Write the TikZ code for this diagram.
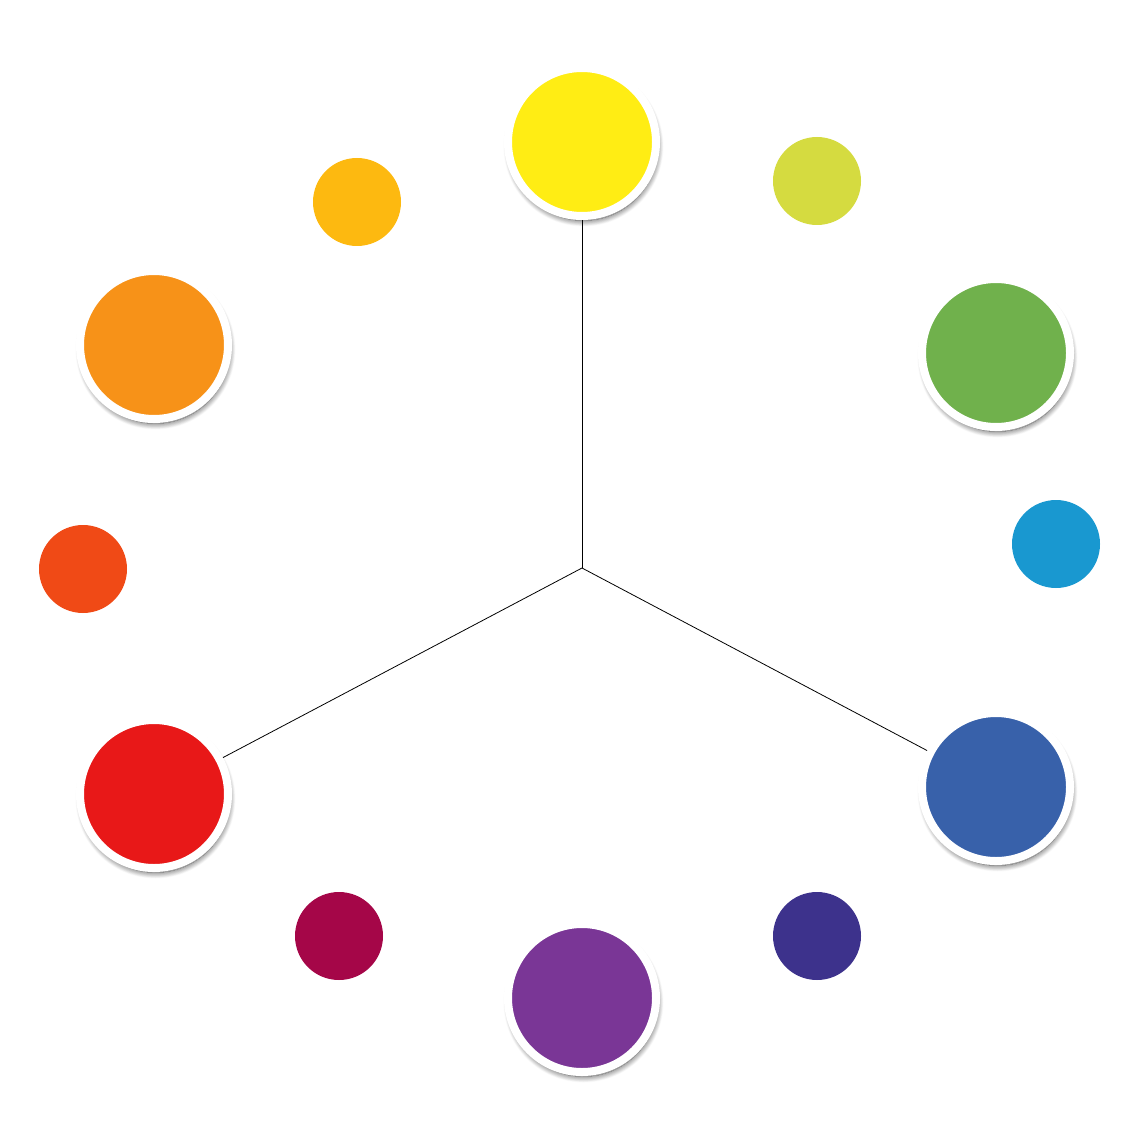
\documentclass[tikz,border=0pt]{standalone}
\usepackage{xcolor}
\usetikzlibrary{shadows.blur}

\definecolor{cyellow}{RGB}{255,237,20}
\definecolor{cyellowgreen}{RGB}{213,219,64}
\definecolor{cgreen}{RGB}{112,177,76}
\definecolor{cbluegreen}{RGB}{25,152,208}
\definecolor{cblue}{RGB}{56,97,170}
\definecolor{cblueviolet}{RGB}{61,50,140}
\definecolor{cviolet}{RGB}{122,54,150}
\definecolor{credviolet}{RGB}{165,6,72}
\definecolor{cred}{RGB}{232,24,24}
\definecolor{credorange}{RGB}{240,74,22}
\definecolor{corange}{RGB}{247,146,24}
\definecolor{cyelloworange}{RGB}{253,185,16}

\begin{document}
\begin{tikzpicture}[x=1pt, y=-1pt,
                main node/.style={circle, draw=white, line width=8pt, minimum size=148pt, inner sep=0pt,
                  blur shadow={shadow xshift=1.5pt, shadow yshift=-4.5pt, shadow blur radius=6pt,
                    shadow blur steps=10, shadow opacity=75}},
                small node/.style={circle, minimum size=88pt, inner sep=0pt}]

      \useasboundingbox (0,0) rectangle (1139,1139);

      % primary and secondary colours
      \node[main node, fill=cyellow] (Y) at (582,142) {};
      \node[main node, fill=cgreen] (G) at (996,353) {};
      \node[main node, fill=cblue] (B) at (996,787) {};
      \node[main node, fill=cviolet] (V) at (582,998) {};
      \node[main node, fill=cred] (R) at (154,794) {};
      \node[main node, fill=corange] (O) at (154,345) {};

      % tertiary colours
      \node[small node, fill=cyellowgreen] (YG) at (817,181) {};
      \node[small node, fill=cbluegreen] (BG) at (1056,544) {};
      \node[small node, fill=cblueviolet] (BV) at (817,936) {};
      \node[small node, fill=credviolet] (RV) at (339,936) {};
      \node[small node, fill=credorange] (RO) at (83,569) {};
      \node[small node, fill=cyelloworange] (YO) at (357,202) {};

      \coordinate (C) at (582,568);
      \draw[line width=0.8pt] (C) -- (Y);
      \draw[line width=0.8pt] (C) -- (R);
      \draw[line width=0.8pt] (C) -- (B);
  \end{tikzpicture}
\end{document}
